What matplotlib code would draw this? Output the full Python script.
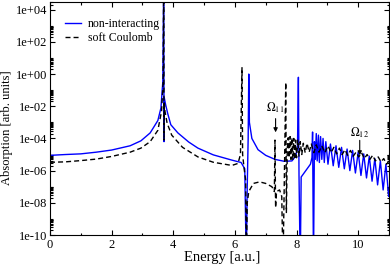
import numpy as np
import matplotlib
matplotlib.use('Agg')
import matplotlib.pyplot as plt
from matplotlib.ticker import FixedLocator, FuncFormatter, MultipleLocator, NullFormatter

plt.rcParams['font.family'] = ['Liberation Serif', 'DejaVu Serif']
plt.rcParams['mathtext.fontset'] = 'stix'

# non-interacting spectrum (energy in a.u., absorption in arb. units)
e_nonint = [0.0, 0.5, 1.0, 1.5, 2.0, 2.6, 2.95, 3.25, 3.5, 3.6, 3.66, 3.69, 3.70, 3.71,
            3.75, 3.82, 3.92, 4.15, 4.5, 4.8, 5.3, 5.9, 6.2, 6.32, 6.37, 6.40, 6.43, 6.45,
            6.47, 6.55, 6.75, 7.0, 7.3, 7.6, 7.85, 7.97, 8.03, 8.06, 8.08, 8.12, 8.15,
            8.3, 8.45, 8.5, 8.52, 8.55, 8.58, 8.61, 8.64, 8.67, 8.71, 8.74, 8.78, 8.82,
            8.86, 8.9, 8.95, 9.02, 9.1, 9.19, 9.28, 9.37, 9.46, 9.55, 9.64, 9.73, 9.82,
            9.91, 10.0, 10.09, 10.18, 10.27, 10.36, 10.45, 10.54, 10.63, 10.72, 10.81,
            10.9, 10.99, 11.0]
abs_nonint = [8.9e-6, 1.0e-5, 1.1e-5, 1.4e-5, 1.9e-5, 3.5e-5, 7.1e-5, 2.2e-4, 1.3e-3, 7.9e-3,
              0.32, 1e6, 6.3e-5, 3.2e-2, 1.3e-2, 3.5e-3, 7.1e-4, 2.2e-4, 6.0e-5, 2.5e-5,
              9.5e-6, 4.5e-6, 3.2e-6, 1.3e-6, 1e-12, 1e-7, 1e-4, 1.0, 1e-3, 1e-4, 2.0e-5,
              8.9e-6, 5.0e-6, 3.8e-6, 4.0e-6, 7.9e-6, 2.5e-5, 0.63, 5.0e-7, 1e-12, 4.0e-7,
              1e-6, 2.5e-6, 6.3e-6, 2.5e-4, 1e-12, 6.3e-5, 5.0e-6, 2.0e-4, 4.0e-6, 1.6e-4,
              3.2e-6, 1.3e-4, 5.0e-6, 1e-4, 3.2e-6, 6.3e-5, 2.5e-6, 4.5e-5, 2.0e-6, 3.5e-5,
              1.6e-6, 2.8e-5, 1.3e-6, 2.2e-5, 1.0e-6, 1.8e-5, 7.1e-7, 1.4e-5, 5.0e-7, 1.1e-5,
              3.5e-7, 7.9e-6, 2.2e-7, 5.6e-6, 1.3e-7, 4.0e-6, 6.3e-8, 2.5e-6, 2.5e-8, 5.0e-8]

# soft Coulomb spectrum
e_soft = [0.0, 0.5, 1.0, 1.5, 2.0, 2.6, 2.95, 3.25, 3.5, 3.62, 3.67, 3.69, 3.70, 3.71, 3.73,
          3.8, 3.95, 4.3, 4.8, 5.3, 5.9, 6.1, 6.18, 6.23, 6.25, 6.3, 6.35, 6.37, 6.40, 6.45,
          6.6, 6.8, 7.0, 7.2, 7.28, 7.30, 7.32, 7.35, 7.45, 7.52, 7.56, 7.60, 7.65, 7.67,
          7.70, 7.73, 7.76, 7.79, 7.82, 7.85, 7.88, 7.91, 7.94, 7.97, 8.0, 8.04, 8.08, 8.12,
          8.17, 8.22, 8.28, 8.34, 8.41, 8.48, 8.56, 8.64, 8.73, 8.82, 8.92, 9.02, 9.12, 9.21,
          9.3, 9.39, 9.48, 9.57, 9.66, 9.75, 9.84, 9.93, 10.02, 10.11, 10.2, 10.29, 10.38,
          10.47, 10.56, 10.65, 10.74, 10.83, 10.92, 11.0]
abs_soft = [3.3e-6, 3.5e-6, 4.2e-6, 5.2e-6, 7.6e-6, 1.4e-5, 2.5e-5, 6.3e-5, 3.2e-4, 5.0e-3,
            0.32, 1e6, 7.9e-5, 1.6e-2, 5.0e-3, 8.9e-4, 1.6e-4, 2.8e-5, 7.1e-6, 3.3e-6,
            2.1e-6, 2.8e-6, 1e-5, 2.5, 1e-5, 1.3e-6, 2.5e-7, 1e-12, 1e-8, 5.0e-8,
            1.6e-7, 2.0e-7, 1.6e-7, 1e-7, 5.0e-8, 7.9e-5, 5.0e-9, 5.0e-8, 6.3e-8, 2.5e-8,
            1e-12, 1e-7, 0.3, 2.5e-9, 2.5e-5, 1.1e-4, 6.3e-6, 1.3e-4, 5.0e-6, 1.1e-4,
            5.0e-6, 1.0e-4, 5.0e-6, 7.9e-5, 6.3e-6, 7.9e-5, 7.9e-6, 6.3e-5, 1.0e-5, 5.0e-5,
            1.3e-5, 5.0e-5, 1.4e-5, 4.5e-5, 1.3e-5, 4.0e-5, 1.4e-5, 3.5e-5, 1.3e-5, 3.5e-5,
            1.3e-5, 2.8e-5, 1.1e-5, 2.5e-5, 1.0e-5, 2.0e-5, 8.9e-6, 1.8e-5, 7.9e-6, 1.4e-5,
            7.1e-6, 1.3e-5, 5.6e-6, 1.0e-5, 5.0e-6, 8.9e-6, 4.0e-6, 7.1e-6, 3.5e-6, 5.6e-6,
            2.5e-6, 4.0e-6]

# arrows: label, energy, label height, arrow tail, arrow tip
omega_labels = ['$\\Omega_{11}$', '$\\Omega_{12}$']
omega_x = [7.32, 10.05]
omega_text_y = [8.5e-3, 2.1e-4]
omega_tail_y = [1.7e-3, 7.6e-5]
omega_tip_y = [2.4e-4, 8.9e-6]

fig = plt.figure(figsize=(3.9, 2.67), dpi=100)
ax = fig.add_axes([50/390, 1-235/267, 339/390, 233/267])

ax.plot(e_nonint, abs_nonint, color='#0000ff', lw=1.0, label='non-interacting')
ax.plot(e_soft, abs_soft, color='black', lw=1.0, ls=(0, (3.6, 2.2)), label='soft Coulomb')

ax.set_yscale('log')
ax.set_xlim(0, 11)
ax.set_ylim(1e-10, 3e4)

ax.xaxis.set_major_locator(MultipleLocator(2))
ax.xaxis.set_minor_locator(MultipleLocator(1))
major_y = [10.0**n for n in range(-10, 5, 2)]
minor_y = [k * 10.0**n for n in range(-10, 5, 2) for k in range(2, 11)]
ax.yaxis.set_major_locator(FixedLocator(major_y))
ax.yaxis.set_minor_locator(FixedLocator(minor_y))
ax.yaxis.set_major_formatter(FuncFormatter(lambda v, p: f"1e{int(round(np.log10(v))):+03d}"))
ax.yaxis.set_minor_formatter(NullFormatter())

ax.tick_params(which='both', direction='in', top=True, right=True, labelsize=9, width=0.8)
ax.tick_params(which='major', length=3.6)
ax.tick_params(which='minor', length=1.8)
ax.tick_params(axis='x', which='major', pad=3)
ax.tick_params(axis='y', which='major', pad=2)
for s in ax.spines.values():
    s.set_linewidth(0.8)

ax.set_xlabel('Energy [a.u.]', fontsize=10.5, labelpad=0)
ax.xaxis.set_label_coords(0.509, -0.068)
ax.set_ylabel('Absorption [arb. units]', fontsize=9)
ax.yaxis.set_label_coords(-0.11, 0.461)

for lab, x, ty, ta, tp in zip(omega_labels, omega_x, omega_text_y, omega_tail_y, omega_tip_y):
    ax.text(x - 0.02, ty, lab, ha='center', va='center', fontsize=8.5)
    ax.annotate('', xy=(x, tp), xytext=(x, ta),
                arrowprops=dict(arrowstyle='-|>', mutation_scale=6, lw=0.8, color='k',
                                shrinkA=0, shrinkB=0))

ax.legend(loc='upper left', bbox_to_anchor=(0.044, 0.93), frameon=False, fontsize=8.5,
          handlelength=1.35, handletextpad=0.6, labelspacing=0.17, borderpad=0,
          borderaxespad=0)

fig.savefig('out.png', dpi=100)
